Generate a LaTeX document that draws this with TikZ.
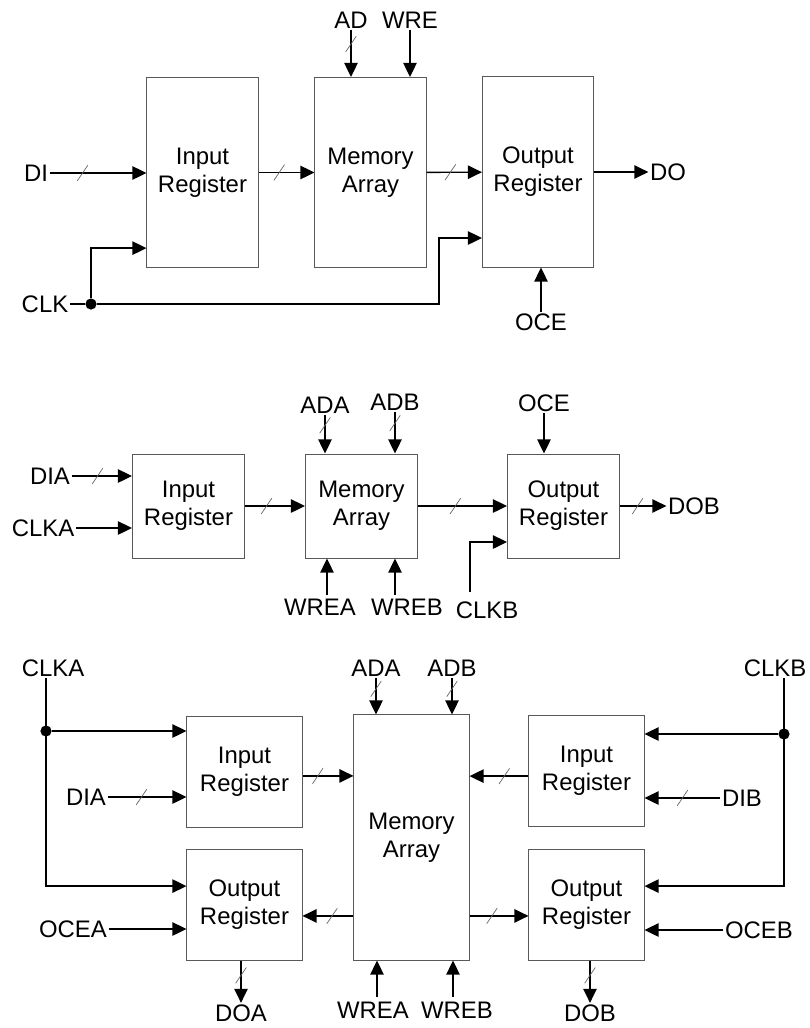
\documentclass[tikz,border=0pt]{standalone}
\usepackage{fontspec}
\setmainfont{Liberation Sans}
\usepackage{tikz}
\usetikzlibrary{arrows.meta}

\tikzset{
  blk/.style={draw=black!65, line width=0.7pt, align=center, inner sep=0pt},
  tall/.style={blk, minimum width=2.775cm, minimum height=4.75cm},
  mid/.style={blk, minimum width=2.8cm, minimum height=2.6cm},
  sq/.style={blk, minimum width=2.875cm, minimum height=2.775cm},
  sig/.style={line width=1pt, -{Triangle[length=10pt,width=9.5pt]}},
  wire/.style={line width=1pt},
  lbl/.style={inner sep=1pt},
  dot/.style={circle, fill, inner sep=0pt, minimum size=0.28cm},
  bus/.style={inner sep=0pt, minimum width=0.27cm, minimum height=0.4cm,
    path picture={\draw[-, black!60, line width=0.5pt] (path picture bounding box.south west) -- (path picture bounding box.north east);}}
}

\begin{document}
\begin{tikzpicture}[x=0.025cm, y=-0.025cm, font=\fontsize{17}{20}\selectfont] % one unit is one pixel
		\useasboundingbox (0,0) rectangle (810,1028);

		% Single port: blocks
		\node[tall] (ir1) at (202.5,172.5) {Input\\Register};
		\node[tall] (ma1) at (370.5,172.5) {Memory\\Array};
		\node[tall] (or1) at (538,172) {Output\\Register};

		% Single port: pins
		\node[lbl] (di) at (36,173) {DI};
		\node[lbl] (dout) at (668,172) {DO};
		\node[lbl] (ad) at (351,20) {AD};
		\node[lbl] (wre) at (410,20) {WRE};
		\node[lbl] (clk) at (45,304) {CLK};
		\node[lbl] (oce) at (541,322) {OCE};
		\node[dot] (k1) at (91,304) {};
		\coordinate (k2) at (439,238);

		\draw[sig] (di) -- node[bus,pos=.34]{} (di -| ir1.west);
		\draw[sig] (ir1) -- node[bus,pos=.37]{} (ma1);
		\draw[sig] (ma1) -- node[bus,pos=.43]{} (or1);
		\draw[sig] (or1) -- (dout);
		\draw[sig] (ad) -- node[bus,pos=.3]{} (ad |- ma1.north);
		\draw[sig] (wre) -- (wre |- ma1.north);
		\draw[sig] (oce) -- (oce |- or1.south);
		\draw[wire] (clk) -- (k1);
		\draw[sig] (k1) -| (k2) -- (k2 -| or1.west);
		\draw[sig] (k1) |- ([yshift=-1.89cm]ir1.west);

		% Dual port: blocks
		\node[mid] (ir2) at (188.5,506) {Input\\Register};
		\node[mid] (ma2) at (361.5,506) {Memory\\Array};
		\node[mid] (or2) at (563.5,506) {Output\\Register};

		% Dual port: pins
		\node[lbl] (dia) at (50,476) {DIA};
		\node[lbl] (clka) at (43,528) {CLKA};
		\node[lbl] (dob) at (694,506) {DOB};
		\node[lbl] (ada) at (325,405) {ADA};
		\node[lbl] (adb) at (395,402) {ADB};
		\node[lbl] (oce2) at (544,403) {OCE};
		\node[lbl] (wrea) at (320,607) {WREA};
		\node[lbl] (wreb) at (407,607) {WREB};
		\node[lbl] (clkb) at (487,610) {CLKB};
		\coordinate (wa2) at (327,595);
		\coordinate (wb2) at (395,595);
		\coordinate (cb2) at (470,592);

		\draw[sig] (dia) -- node[bus,pos=.43]{} (dia -| ir2.west);
		\draw[sig] (clka) -- (clka -| ir2.west);
		\draw[sig] (ir2) -- node[bus,pos=.36]{} (ma2);
		\draw[sig] (ma2) -- node[bus,pos=.42]{} (or2);
		\draw[sig] (or2) -- node[bus,pos=.38]{} (dob);
		\draw[sig] (ada) -- node[bus,pos=.27]{} (ada |- ma2.north);
		\draw[sig] (adb) -- node[bus,pos=.27]{} (adb |- ma2.north);
		\draw[sig] (oce2) -- (oce2 |- or2.north);
		\draw[sig] (wa2) -- (wa2 |- ma2.south);
		\draw[sig] (wb2) -- (wb2 |- ma2.south);
		\draw[sig] (cb2) |- ([yshift=-0.9cm]or2.west);

		% True dual port: blocks
		\node[sq] (ira) at (244.5,771.5) {Input\\Register};
		\node[sq] (ora) at (244.5,904.5) {Output\\Register};
		\node[blk, minimum width=2.875cm, minimum height=6.125cm] (ma3) at (411.5,837.5) {Memory\\Array};
		\node[sq] (irb) at (586.5,770.5) {Input\\Register};
		\node[sq] (orb) at (586.5,904.5) {Output\\Register};

		% True dual port: pins
		\node[lbl] (clka3) at (53,668) {CLKA};
		\node[lbl] (dia3) at (86,797) {DIA};
		\node[lbl] (ocea) at (73,929) {OCEA};
		\node[lbl] (doa) at (241,1013) {DOA};
		\node[lbl] (ada3) at (376,668) {ADA};
		\node[lbl] (adb3) at (452,668) {ADB};
		\node[lbl] (wrea3) at (373,1010) {WREA};
		\node[lbl] (wreb3) at (457,1010) {WREB};
		\node[lbl] (clkb3) at (775,668) {CLKB};
		\node[lbl] (dib) at (742,798) {DIB};
		\node[lbl] (oceb) at (759,930) {OCEB};
		\node[lbl] (dob3) at (590,1013) {DOB};
		\node[dot] (ka) at (46,731) {};
		\node[dot] (kb) at (784,734) {};
		\coordinate (ia) at ([yshift=-0.11cm]ira.east);
		\coordinate (ib) at ([yshift=-0.14cm]irb.west);
		\coordinate (oa) at ([yshift=-1.96cm]ma3.west);
		\coordinate (ob) at ([yshift=-1.96cm]ma3.east);
		\coordinate (wa3) at (377,997);
		\coordinate (wb3) at (453,997);

		% Port A side
		\draw[sig] (clka3.south -| ka) |- ([yshift=0.46cm]ora.west);
		\draw[sig] (ka) -- (ka -| ira.west);
		\draw[sig] (dia3) -- node[bus,pos=.43]{} (dia3 -| ira.west);
		\draw[sig] (ocea) -- (ocea -| ora.west);
		\draw[sig] (ia) -- node[bus,pos=.3]{} (ia -| ma3.west);
		\draw[sig] (oa) -- node[bus,pos=.42]{} (oa -| ora.east);
		\draw[sig] (ora.south -| doa) -- node[bus,pos=.35]{} (doa);

		% Port B side
		\draw[sig] (clkb3.south -| kb) |- ([yshift=0.46cm]orb.east);
		\draw[sig] (kb) -- (kb -| irb.east);
		\draw[sig] (dib) -- node[bus,pos=.5]{} (dib -| irb.east);
		\draw[sig] (oceb) -- (oceb -| orb.east);
		\draw[sig] (ib) -- node[bus,pos=.41]{} (ib -| ma3.east);
		\draw[sig] (ob) -- node[bus,pos=.38]{} (ob -| orb.west);
		\draw[sig] (orb.south -| dob3) -- node[bus,pos=.35]{} (dob3);

		% Address and write enable
		\draw[sig] (ada3) -- node[bus,pos=.3]{} (ada3 |- ma3.north);
		\draw[sig] (adb3) -- node[bus,pos=.3]{} (adb3 |- ma3.north);
		\draw[sig] (wa3) -- (wa3 |- ma3.south);
		\draw[sig] (wb3) -- (wb3 |- ma3.south);
	\end{tikzpicture}
\end{document}
